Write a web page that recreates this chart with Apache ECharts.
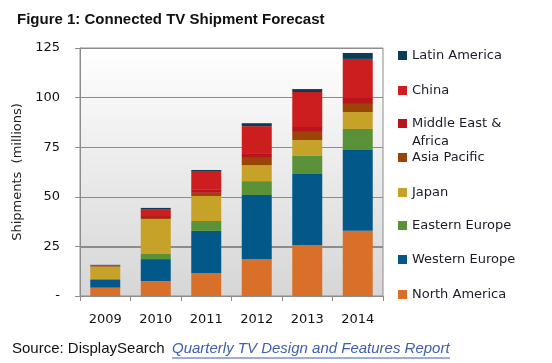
<!DOCTYPE html>
<html><head><meta charset="utf-8">
<script src="https://cdn.jsdelivr.net/npm/echarts@6/dist/echarts.min.js"></script>
<style>html,body{margin:0;padding:0;background:#fff}#c{width:552px;height:363px}</style>
</head><body><div id="c"></div>
<script>
var years = ['2009','2010','2011','2012','2013','2014'];
var yTicks = ['-','25','50','75','100','125'];
var northAmerica  = [4.2, 7.5, 11.6, 18.6, 25.7, 32.9];
var westernEurope = [3.9, 11.1, 21.2, 32.3, 35.8, 40.7];
var easternEurope = [0.5, 2.6, 5.0, 7.0, 9.1, 10.6];
var japan         = [6.2, 17.6, 12.6, 8.0, 8.0, 8.5];
var asiaPacific   = [0.3, 0.5, 1.6, 3.7, 4.1, 4.1];
var middleEast    = [0.2, 1.0, 1.5, 2.0, 2.5, 3.0];
var china         = [0.1, 3.5, 9.5, 14.0, 17.6, 19.7];
var latinAmerica  = [0.3, 0.6, 0.5, 1.5, 1.5, 3.0];

var seriesDefs = [
  ['North America', northAmerica, '#d9702a'],
  ['Western Europe', westernEurope, '#03588a'],
  ['Eastern Europe', easternEurope, '#5b9139'],
  ['Japan', japan, '#c6a228'],
  ['Asia Pacific', asiaPacific, '#9a4408'],
  ['Middle East & Africa', middleEast, '#b8141c'],
  ['China', china, '#cc1d1f'],
  ['Latin America', latinAmerica, '#0d3a55']
];
var legendOrder = ['Latin America','China','Middle East & Africa','Asia Pacific','Japan','Eastern Europe','Western Europe','North America'];
var legendTops = [49, 84, 117, 151, 186, 219, 253, 288];

var chart = echarts.init(document.getElementById('c'), null, {renderer:'canvas'});
var legends = legendOrder.map(function(n, i){
  return {
    data:[n], left: 398, top: legendTops[i], orient:'vertical', padding:0,
    icon:'rect', itemWidth:9, itemHeight:9, selectedMode:false,
    formatter: function(name){ return name === 'Middle East & Africa' ? 'Middle East &' : name; },
    textStyle:{fontFamily:'DejaVu Sans', fontSize:13, color:'#1b1b2b'}
  };
});
var option = {
  animation:false,
  backgroundColor:'#ffffff',
  title:{text:'Figure 1: Connected TV Shipment Forecast', left:12, top:7,
    textStyle:{fontFamily:'Liberation Sans', fontWeight:'bold', fontSize:15, color:'#111'}},
  legend: legends,
  grid:{left:80, right:169, top:48, bottom:67, show:true, borderColor:'#8c8c8c', borderWidth:1,
    backgroundColor:new echarts.graphic.LinearGradient(0,0,0,1,[{offset:0,color:'#ffffff'},{offset:1,color:'#d6d6d6'}])},
  xAxis:{type:'category', data:years,
    axisLine:{lineStyle:{color:'#8c8c8c'}},
    axisTick:{show:true, length:5, lineStyle:{color:'#8c8c8c'}},
    axisLabel:{fontFamily:'DejaVu Sans', fontSize:13, color:'#111', margin:17}},
  yAxis:[{type:'value', min:0, max:125, interval:25,
    name:'Shipments  (millions)', nameLocation:'middle', nameGap:51,
    nameTextStyle:{fontFamily:'DejaVu Sans', fontSize:13, color:'#222'},
    axisLine:{show:true, lineStyle:{color:'#8c8c8c'}},
    axisTick:{show:true, length:5, lineStyle:{color:'#8c8c8c'}},
    axisLabel:{fontFamily:'DejaVu Sans', fontSize:13, color:'#111', margin:20,
      formatter:function(v){ return yTicks[Math.round(v/25)]; }},
    splitLine:{show:true, lineStyle:{color:'#8c8c8c', width:1}}},
   {type:'value', min:0, max:125, interval:25, show:true, position:'left',
    axisLine:{show:false}, axisTick:{show:false}, axisLabel:{show:false},
    splitLine:{show:true, lineStyle:{width:2, color:['rgba(0,0,0,0)','#8c8c8c','rgba(0,0,0,0)','rgba(0,0,0,0)','rgba(0,0,0,0)','rgba(0,0,0,0)']}}}],
  series: seriesDefs.map(function(d){
    return {name:d[0], type:'bar', stack:'total', data:d[1], barWidth:30,
      itemStyle:{color:d[2]}, emphasis:{disabled:true}};
  }),
  graphic:[
    {type:'text', left:412, top:135, style:{text:'Africa', font:'13px "DejaVu Sans"', fill:'#1b1b2b'}},
    {type:'text', left:12, top:341, style:{text:'Source: DisplaySearch', font:'15px "Liberation Sans"', fill:'#111'}},
    {type:'text', left:172, top:341, style:{text:'Quarterly TV Design and Features Report', font:'italic 15px "Liberation Sans"', fill:'#3d5fae'}},
    {type:'line', shape:{x1:172, y1:358, x2:450, y2:358}, style:{stroke:'#3d5fae', lineWidth:1}}
  ]
};
chart.setOption(option);
</script></body></html>
